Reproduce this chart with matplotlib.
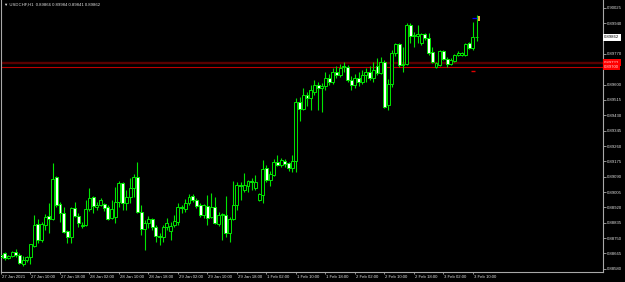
import numpy as np
import matplotlib
matplotlib.use('Agg')
import matplotlib.pyplot as plt
import matplotlib.transforms as mtransforms
from matplotlib.patches import Rectangle

plt.rcParams['font.family'] = ['Liberation Sans', 'DejaVu Sans']

### USDCHF H1 candles, 27 Jan 02:00 -> 3 Feb 11:00
opens = [
    0.88656, 0.88667, 0.88640, 0.88651, 0.88673, 0.88656, 0.88607, 0.88629, 0.88645, 0.88706,
    0.88828, 0.88739, 0.88823, 0.88872, 0.88856, 0.89088, 0.88939, 0.88889, 0.88789, 0.88756,
    0.88917, 0.88872, 0.88817, 0.88823, 0.88911, 0.88978, 0.88922, 0.88933, 0.88939, 0.88922,
    0.88861, 0.88867, 0.88950, 0.89055, 0.88944, 0.88978, 0.89027, 0.89088, 0.88895, 0.88800,
    0.88834, 0.88856, 0.88811, 0.88762, 0.88756, 0.88811, 0.88789, 0.88823, 0.88839, 0.88922,
    0.88911, 0.88944, 0.88983, 0.88961, 0.88933, 0.88878, 0.88928, 0.88867, 0.88922, 0.88828,
    0.88878, 0.88878, 0.88778, 0.88856, 0.88933, 0.89044, 0.89016, 0.89039, 0.89066, 0.89027,
    0.88961, 0.88989, 0.89138, 0.89072, 0.89100, 0.89172, 0.89155, 0.89177, 0.89166, 0.89138,
    0.89177, 0.89504, 0.89465, 0.89543, 0.89526, 0.89559, 0.89598, 0.89581, 0.89593, 0.89637,
    0.89615, 0.89670, 0.89654, 0.89703, 0.89698, 0.89626, 0.89598, 0.89637, 0.89615, 0.89654,
    0.89670, 0.89637, 0.89703, 0.89665, 0.89726, 0.89487, 0.89604, 0.89775, 0.89825, 0.89709,
    0.89714, 0.89931, 0.89870, 0.89870, 0.89831, 0.89881, 0.89858, 0.89781, 0.89698, 0.89709,
    0.89786, 0.89742, 0.89714, 0.89731, 0.89764, 0.89764, 0.89764, 0.89831, 0.89803, 0.89866,
]
highs = [
    0.88667, 0.88673, 0.88656, 0.88678, 0.88690, 0.88667, 0.88651, 0.88651, 0.88717, 0.88878,
    0.88856, 0.88839, 0.88884, 0.88944, 0.89166, 0.89094, 0.88950, 0.88922, 0.88795, 0.88922,
    0.88950, 0.88889, 0.88839, 0.88961, 0.89027, 0.88983, 0.88950, 0.88972, 0.88944, 0.88933,
    0.88961, 0.89033, 0.89066, 0.89061, 0.89016, 0.89083, 0.89105, 0.89172, 0.88933, 0.88850,
    0.88872, 0.88861, 0.88823, 0.88778, 0.88823, 0.88861, 0.88839, 0.88878, 0.88944, 0.88933,
    0.88967, 0.88994, 0.88994, 0.88972, 0.88944, 0.88939, 0.88989, 0.89000, 0.88978, 0.88895,
    0.88889, 0.88983, 0.88867, 0.89066, 0.89061, 0.89061, 0.89111, 0.89072, 0.89083, 0.89100,
    0.89000, 0.89183, 0.89155, 0.89122, 0.89188, 0.89210, 0.89194, 0.89188, 0.89172, 0.89210,
    0.89526, 0.89532, 0.89581, 0.89559, 0.89598, 0.89626, 0.89615, 0.89609, 0.89670, 0.89659,
    0.89692, 0.89703, 0.89714, 0.89726, 0.89709, 0.89648, 0.89659, 0.89670, 0.89681, 0.89692,
    0.89703, 0.89726, 0.89748, 0.89753, 0.89737, 0.89631, 0.89792, 0.89831, 0.89831, 0.89809,
    0.89942, 0.89942, 0.89892, 0.89931, 0.89886, 0.89886, 0.89886, 0.89809, 0.89726, 0.89792,
    0.89792, 0.89753, 0.89748, 0.89770, 0.89786, 0.89781, 0.89831, 0.89836, 0.89947, 0.89984,
]
lows = [
    0.88629, 0.88629, 0.88634, 0.88645, 0.88645, 0.88607, 0.88595, 0.88618, 0.88607, 0.88701,
    0.88723, 0.88728, 0.88795, 0.88778, 0.88850, 0.88922, 0.88839, 0.88778, 0.88723, 0.88723,
    0.88867, 0.88811, 0.88806, 0.88817, 0.88900, 0.88889, 0.88906, 0.88928, 0.88900, 0.88850,
    0.88856, 0.88834, 0.88922, 0.88906, 0.88906, 0.88944, 0.88978, 0.88889, 0.88767, 0.88684,
    0.88806, 0.88795, 0.88728, 0.88712, 0.88728, 0.88795, 0.88739, 0.88811, 0.88823, 0.88889,
    0.88895, 0.88933, 0.88950, 0.88917, 0.88867, 0.88861, 0.88823, 0.88861, 0.88828, 0.88817,
    0.88739, 0.88756, 0.88728, 0.88850, 0.88906, 0.88961, 0.89005, 0.89005, 0.89016, 0.89016,
    0.88955, 0.88944, 0.89061, 0.89039, 0.89094, 0.89149, 0.89144, 0.89144, 0.89122, 0.89116,
    0.89116, 0.89399, 0.89460, 0.89482, 0.89460, 0.89543, 0.89460, 0.89449, 0.89570, 0.89598,
    0.89604, 0.89637, 0.89643, 0.89670, 0.89615, 0.89570, 0.89581, 0.89593, 0.89604, 0.89615,
    0.89626, 0.89615, 0.89654, 0.89659, 0.89471, 0.89460, 0.89587, 0.89759, 0.89698, 0.89670,
    0.89709, 0.89831, 0.89809, 0.89831, 0.89820, 0.89847, 0.89764, 0.89720, 0.89692, 0.89703,
    0.89737, 0.89698, 0.89709, 0.89726, 0.89759, 0.89759, 0.89759, 0.89798, 0.89792, 0.89841,
]
closes = [
    0.88645, 0.88640, 0.88651, 0.88673, 0.88656, 0.88612, 0.88629, 0.88645, 0.88717, 0.88823,
    0.88739, 0.88828, 0.88867, 0.88856, 0.89077, 0.88933, 0.88889, 0.88784, 0.88756, 0.88917,
    0.88872, 0.88834, 0.88823, 0.88911, 0.88972, 0.88928, 0.88933, 0.88961, 0.88917, 0.88856,
    0.88911, 0.88950, 0.89055, 0.88944, 0.88978, 0.89027, 0.89088, 0.88895, 0.88800, 0.88834,
    0.88856, 0.88811, 0.88762, 0.88756, 0.88811, 0.88834, 0.88817, 0.88845, 0.88922, 0.88917,
    0.88944, 0.88978, 0.88961, 0.88928, 0.88878, 0.88933, 0.88861, 0.88922, 0.88834, 0.88878,
    0.88884, 0.88778, 0.88856, 0.88933, 0.89044, 0.89039, 0.89044, 0.89066, 0.89061, 0.89061,
    0.88994, 0.89133, 0.89072, 0.89105, 0.89172, 0.89155, 0.89183, 0.89160, 0.89138, 0.89177,
    0.89504, 0.89465, 0.89543, 0.89526, 0.89570, 0.89598, 0.89581, 0.89593, 0.89637, 0.89615,
    0.89670, 0.89654, 0.89692, 0.89698, 0.89626, 0.89598, 0.89637, 0.89615, 0.89654, 0.89670,
    0.89637, 0.89681, 0.89665, 0.89726, 0.89476, 0.89604, 0.89775, 0.89825, 0.89709, 0.89714,
    0.89931, 0.89870, 0.89875, 0.89881, 0.89881, 0.89858, 0.89775, 0.89726, 0.89720, 0.89786,
    0.89742, 0.89714, 0.89737, 0.89764, 0.89775, 0.89775, 0.89825, 0.89803, 0.89864, 0.89862,
]

# time axis labels (every 8th bar)
time_label_bars = [0, 8, 16, 24, 32, 40, 48, 56, 64, 72, 80, 88, 96, 104, 112, 120, 128]
time_labels = ['27 Jan 2021', '27 Jan 10:00', '27 Jan 18:00', '28 Jan 02:00', '28 Jan 10:00',
               '28 Jan 18:00', '29 Jan 02:00', '29 Jan 10:00', '29 Jan 18:00', '1 Feb 02:00',
               '1 Feb 10:00', '1 Feb 18:00', '2 Feb 02:00', '2 Feb 10:00', '2 Feb 18:00',
               '3 Feb 02:00', '3 Feb 10:00']

# price scale
price_ticks = [0.88580, 0.88665, 0.88750, 0.88835, 0.88920, 0.89005, 0.89090, 0.89175, 0.89260,
               0.89345, 0.89430, 0.89515, 0.89600, 0.89685, 0.89770, 0.89855, 0.89940, 0.90025]
hidden_ticks = [0.89685, 0.89855]   # covered by the price boxes

header = '\u25bc USDCHF,H1  0.89866 0.89984 0.89841 0.89862'
bid_price = 0.89862
level_prices = [0.89722, 0.89700]
level_labels = ['0.89722', '0.89700']
level_colors = ['#5a0000', '#c00000']
level_widths = [1.7, 0.8]
stop_mark = (128, 0.89678)      # small red dash
ask_mark = (128.5, 0.89969)     # blue dash
last_mark = (129.4, 0.89965)    # yellow marker

GREEN = '#00e600'
AXCOL = '#a8a8a8'
TXT = '#e0e0e0'
FS = 3.1


def main():
    o = np.array(opens)
    h = np.array(highs)
    l = np.array(lows)
    c = np.array(closes)
    x = np.arange(len(o))

    fig = plt.figure(figsize=(6.25, 2.82), dpi=100, facecolor='black')
    ax = fig.add_axes([1 / 625, 10 / 282, 602 / 625, 272 / 282])
    ax.set_facecolor('black')

    ### horizontal levels
    for p, col, lw in zip(level_prices, level_colors, level_widths):
        ax.axhline(p, color=col, lw=lw, zorder=1)

    ### candles
    up = c >= o
    ax.vlines(x, l, h, color=GREEN, lw=0.8, zorder=2)
    body_lo = np.minimum(o, c)
    body_h = np.abs(c - o)
    face = np.where(up, 'black', 'white')
    ax.bar(x, body_h, bottom=body_lo, width=0.8, color=face, edgecolor=GREEN,
           linewidth=0.7, zorder=3)
    flat = body_h < 0.00002
    ax.hlines(c[flat], x[flat] - 0.42, x[flat] + 0.42, color=GREEN, lw=0.8, zorder=4)

    ### small markers near the last bar
    ax.hlines(stop_mark[1], stop_mark[0] - 0.5, stop_mark[0] + 0.6, color='#e00000', lw=1.0, zorder=4)
    ax.hlines(ask_mark[1], ask_mark[0] - 0.7, ask_mark[0] + 0.6, color='#0000ff', lw=0.9, zorder=4)
    ax.add_patch(Rectangle((last_mark[0], last_mark[1] - 0.00011), 0.55, 0.00024,
                           facecolor='#f0b040', edgecolor='none', zorder=5))

    ### axes limits (bar spacing ~3.69 px)
    ax.set_xlim(0.136, 163.3)
    ax.set_ylim(0.88562, 0.90069)

    ax.spines['top'].set_visible(False)
    for side in ['left', 'right', 'bottom']:
        ax.spines[side].set_color(AXCOL)
        ax.spines[side].set_linewidth(0.8)

    ax.yaxis.tick_right()
    ax.set_yticks(price_ticks)
    ax.set_yticklabels(['' if p in hidden_ticks else '%.5f' % p for p in price_ticks])
    ax.tick_params(axis='y', colors=AXCOL, labelcolor=TXT, labelsize=FS, length=1.8,
                   width=0.6, pad=0.8)

    ax.set_xticks(time_label_bars)
    ax.set_xticklabels(time_labels, ha='left')
    ax.tick_params(axis='x', colors=AXCOL, labelcolor=TXT, labelsize=FS, length=1.6,
                   width=0.6, pad=0.6)
    offset = mtransforms.ScaledTranslation(1 / 100, 0, fig.dpi_scale_trans)
    for lab in ax.get_xticklabels():
        lab.set_transform(lab.get_transform() + offset)

    ### price boxes on the scale
    trans = mtransforms.blended_transform_factory(ax.transAxes, ax.transData)
    ax.text(1.002, bid_price, '%.5f' % bid_price, transform=trans, fontsize=FS, color='black',
            va='center', ha='left', clip_on=False, zorder=10,
            bbox=dict(boxstyle='square,pad=0.35', fc='white', ec='none'))
    for p, lab in zip(level_prices, level_labels):
        ax.text(1.002, p, lab, transform=trans, fontsize=FS, color='#ffd8d8',
                va='center', ha='left', clip_on=False, zorder=10,
                bbox=dict(boxstyle='square,pad=0.3', fc='#ff0000', ec='none'))

    ### header
    fig.text(4 / 625, 1 - 5 / 282, header, fontsize=FS, color=TXT, va='center', ha='left')

    fig.savefig('out.png', dpi=100, facecolor='black')


if __name__ == '__main__':
    main()
